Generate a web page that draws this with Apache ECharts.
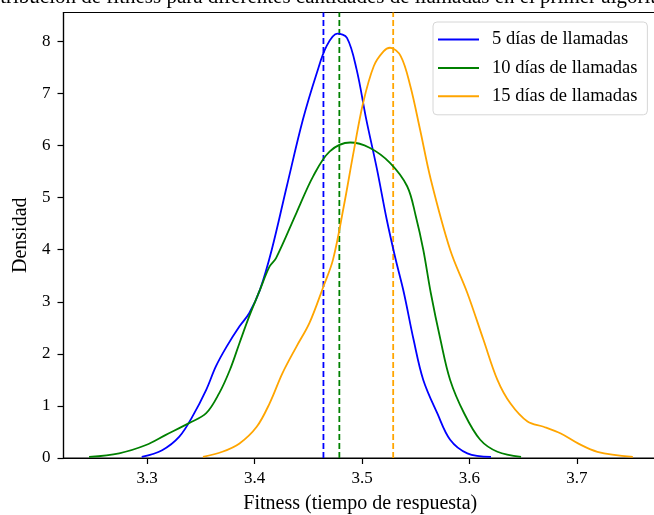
<!DOCTYPE html>
<html>
<head>
<meta charset="utf-8">
<script src="https://cdn.jsdelivr.net/npm/echarts@6/dist/echarts.min.js"></script>
<style>
  html, body { margin: 0; padding: 0; background: #fff; }
  #chart { width: 654px; height: 515px; }
</style>
</head>
<body>
<div id="chart"></div>
<script>
// ticks
var xTicks = [3.3, 3.4, 3.5, 3.6, 3.7];
var yTicks = [0, 1, 2, 3, 4, 5, 6, 7, 8];

// 5 dias de llamadas
var x5 = [3.295, 3.314, 3.330, 3.342, 3.355, 3.364, 3.374, 3.386, 3.395, 3.405, 3.416, 3.430, 3.445, 3.458, 3.467, 3.477, 3.486, 3.495, 3.504, 3.514, 3.523, 3.531, 3.539, 3.548, 3.557, 3.570, 3.582, 3.598, 3.620];
var y5 = [0.02, 0.15, 0.41, 0.79, 1.31, 1.76, 2.14, 2.53, 2.78, 3.23, 4.0, 5.22, 6.5, 7.40, 7.91, 8.15, 8.07, 7.46, 6.5, 5.54, 4.58, 3.84, 3.17, 2.27, 1.5, 0.86, 0.35, 0.09, 0.02];

// 10 dias de llamadas
var x10 = [3.246, 3.274, 3.299, 3.317, 3.339, 3.355, 3.367, 3.377, 3.386, 3.395, 3.405, 3.414, 3.420, 3.439, 3.4545, 3.470, 3.489, 3.507, 3.526, 3.542, 3.550, 3.557, 3.564, 3.573, 3.582, 3.595, 3.610, 3.626, 3.648];
var y10 = [0.02, 0.09, 0.25, 0.44, 0.67, 0.86, 1.24, 1.69, 2.21, 2.72, 3.23, 3.68, 3.84, 4.71, 5.41, 5.89, 6.06, 5.96, 5.67, 5.22, 4.65, 4.0, 3.17, 2.27, 1.5, 0.86, 0.35, 0.12, 0.02];

// 15 dias de llamadas
var x15 = [3.352, 3.370, 3.386, 3.402, 3.414, 3.426, 3.439, 3.451, 3.464, 3.473, 3.483, 3.492, 3.501, 3.511, 3.520, 3.526, 3.536, 3.545, 3.554, 3.564, 3.582, 3.598, 3.613, 3.626, 3.638, 3.654, 3.669, 3.685, 3.701, 3.719, 3.752];
var y15 = [0.02, 0.12, 0.28, 0.60, 1.05, 1.63, 2.14, 2.59, 3.29, 3.81, 4.83, 5.86, 6.82, 7.53, 7.81, 7.88, 7.72, 7.14, 6.31, 5.35, 4.0, 3.17, 2.27, 1.5, 1.05, 0.70, 0.60, 0.47, 0.28, 0.12, 0.02];

// medias (lineas discontinuas)
var names = ['5 días de llamadas', '10 días de llamadas', '15 días de llamadas'];
var colors = ['#0000ff', '#008000', '#ffa500'];
var means = [3.4641, 3.4789, 3.5290];

var yMax = 8.557;
var font = 'Liberation Serif';

function pairs(xs, ys) {
    return xs.map(function(x, i) { return [x, ys[i]]; });
}

var curves = [pairs(x5, y5), pairs(x10, y10), pairs(x15, y15)];

var myChart = echarts.init(document.getElementById('chart'));

var series = [];
curves.forEach(function(d, i) {
    series.push({
        name: names[i],
        type: 'line',
        data: d,
        smooth: 0.35,
        symbol: 'none',
        z: 3,
        lineStyle: { color: colors[i], width: 1.8 },
        itemStyle: { color: colors[i] }
    });
});
// lineas verticales de la media, de abajo arriba del eje
means.forEach(function(m, i) {
    series.push({
        name: 'media ' + names[i],
        type: 'line',
        data: [[m, 0], [m, yMax]],
        symbol: 'none',
        silent: true,
        z: 2,
        lineStyle: { color: colors[i], width: 1.8, type: [6, 3] }
    });
});

myChart.setOption({
    animation: false,
    textStyle: { fontFamily: font },
    title: {
        text: 'Distribución de fitness para diferentes cantidades de llamadas en el primer algoritmo',
        left: 322,
        top: -18,
        textAlign: 'center',
        textStyle: { fontFamily: font, fontSize: 21, fontWeight: 'normal', color: '#000' }
    },
    legend: {
        orient: 'vertical',
        left: 433,
        top: 22,
        padding: [8, 10, 9, 5],
        icon: 'rect',
        itemWidth: 41,
        itemHeight: 2,
        itemGap: 9.4,
        backgroundColor: '#fff',
        borderColor: '#d6d6d6',
        borderWidth: 1,
        borderRadius: 4,
        textStyle: { fontFamily: font, fontSize: 18.5, color: '#000', padding: [0, 0, 0, 8] },
        data: names
    },
    grid: {
        left: 63.5,
        right: -3,
        top: 12.5,
        bottom: 57,
        show: true,
        borderColor: '#000',
        borderWidth: 1.2,
        containLabel: false,
        outerBoundsMode: 'none'
    },
    xAxis: {
        type: 'value',
        min: 3.2222,
        max: 3.7745,
        name: 'Fitness (tiempo de respuesta)',
        nameLocation: 'middle',
        nameGap: 36,
        nameTextStyle: { fontFamily: font, fontSize: 20, color: '#000' },
        axisLine: { show: true, lineStyle: { color: '#000', width: 1.2 } },
        axisTick: { show: true, length: 6, customValues: xTicks, lineStyle: { color: '#000', width: 1.2 } },
        axisLabel: {
            customValues: xTicks,
            margin: 12,
            fontFamily: font,
            fontSize: 17,
            color: '#000',
            formatter: function(v) { return v.toFixed(1); }
        },
        splitLine: { show: false }
    },
    yAxis: {
        type: 'value',
        min: 0,
        max: yMax,
        name: 'Densidad',
        nameLocation: 'middle',
        nameGap: 32,
        nameTextStyle: { fontFamily: font, fontSize: 20, color: '#000' },
        axisLine: { show: true, lineStyle: { color: '#000', width: 1.2 } },
        axisTick: { show: true, length: 6, customValues: yTicks, lineStyle: { color: '#000', width: 1.2 } },
        axisLabel: {
            customValues: yTicks,
            margin: 13,
            fontFamily: font,
            fontSize: 17,
            color: '#000'
        },
        splitLine: { show: false }
    },
    series: series
});
</script>
</body>
</html>
